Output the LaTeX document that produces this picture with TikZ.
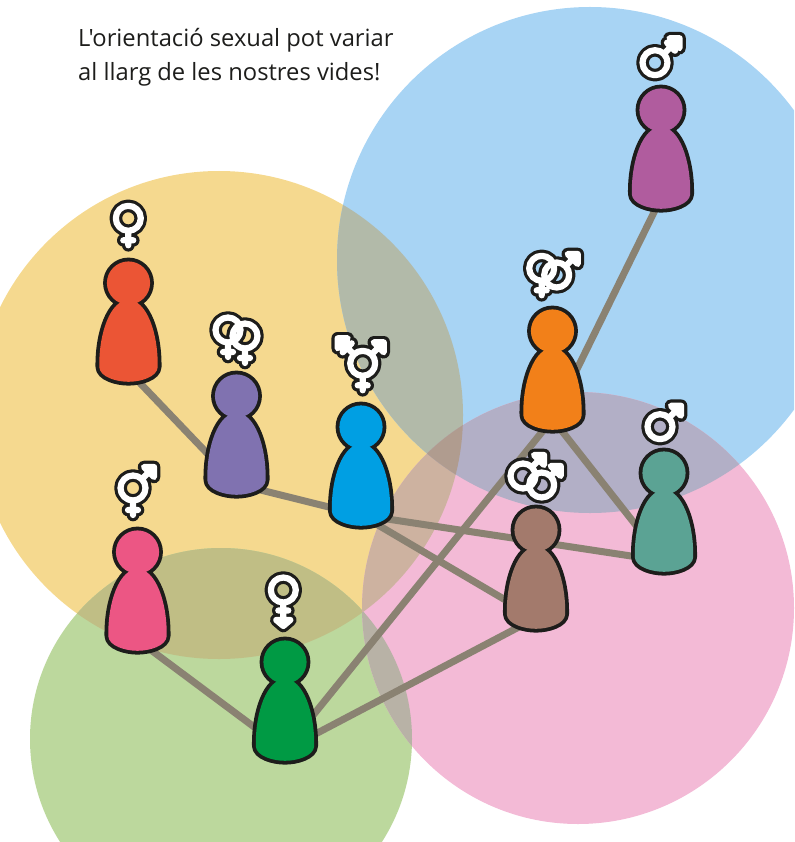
\documentclass[tikz,border=0pt]{standalone}
\usepackage{fontspec}
\newfontfamily\titlefont{Open Sans}
\definecolor{yellowbg}{HTML}{F5D98F}
\definecolor{bluebg}{HTML}{A8D4F4}
\definecolor{pinkbg}{HTML}{F3BAD6}
\definecolor{greenbg}{HTML}{BCD89D}
\definecolor{yellowblue}{HTML}{B2BAA9}
\definecolor{yellowgreen}{HTML}{C0BE85}
\definecolor{yellowpink}{HTML}{CDB2A0}
\definecolor{bluepink}{HTML}{B2AFC6}
\definecolor{greenpink}{HTML}{B8B2A6}
\definecolor{yellowbluepink}{HTML}{B09C8F}
\definecolor{linkcol}{HTML}{8A8272}
\definecolor{outline}{HTML}{1D1D1B}
\definecolor{pawnred}{HTML}{EB5535}
\definecolor{pawnpurple}{HTML}{8072B0}
\definecolor{pawnblue}{HTML}{009FE3}
\definecolor{pawnmagenta}{HTML}{B05C9E}
\definecolor{pawnorange}{HTML}{F28019}
\definecolor{pawnteal}{HTML}{5BA394}
\definecolor{pawnbrown}{HTML}{A37A6C}
\definecolor{pawnrose}{HTML}{EC5684}
\definecolor{pawngreen}{HTML}{009A44}
\newcommand{\yellowc}{(219,415) circle[radius=244]}
\newcommand{\bluec}{(590,260) circle[radius=253]}
\newcommand{\pinkc}{(578,608) circle[radius=216]}
\newcommand{\greenc}{(221,739) circle[radius=191]}
\newcommand{\headp}{(0,-88) circle[radius=21.6]}
\newcommand{\bodyp}{(0,-71) .. controls (-18,-71) and (-29.8,-38) .. (-29.2,-4) .. controls (-28.8,6) and (-12,10.8) .. (0,10.8)
  .. controls (12,10.8) and (28.8,6) .. (29.2,-4) .. controls (29.8,-38) and (18,-71) .. (0,-71) -- cycle}
% sign parts, each one is a piece of path
\newcommand{\ringp}[2]{(#1,#2) circle[radius=12.5]}
\newcommand{\venusp}[2]{\ringp{#1}{#2} (#1,#2+12.5) -- (#1,#2+27) (#1-5,#2+22) -- (#1+5,#2+22)}
\newcommand{\marsp}[3]{\ringp{#1}{#2} (#1+8.8,#2-8.8) -- (#1+#3,#2-#3) -- (#1+#3-10,#2-#3) -- (#1+#3,#2-#3+10) -- (#1+#3,#2-#3)}
\newcommand{\signpic}[1]{\draw[signout] #1; \draw[signin] #1;}
\tikzset{
  signout/.style={outline,line width=12.6pt,line cap=round,line join=round},
  signin/.style={white,line width=6.2pt,line cap=round,line join=round},
  link/.style={linkcol,line width=7pt},
  pics/pawn/.style={code={
    \draw[outline,line width=7.6pt,line join=round] \headp \bodyp;
    \fill[#1] \headp;
    \fill[#1] \bodyp;
  }}
}
\begin{document}
\begin{tikzpicture}[x=1pt,y=-1pt]
  \path[use as bounding box,clip] (0,0) rectangle (794,842);
  % circles and their overlaps
  \fill[yellowbg] \yellowc;
  \fill[bluebg] \bluec;
  \fill[greenbg] \greenc;
  \fill[pinkbg] \pinkc;
  \begin{scope}
    \clip \yellowc;
    \fill[yellowblue] \bluec;
    \fill[yellowgreen] \greenc;
    \fill[yellowpink] \pinkc;
    \clip \bluec;
    \fill[yellowbluepink] \pinkc;
  \end{scope}
  \begin{scope}
    \clip \pinkc;
    \begin{scope}
      \clip \bluec;
      \fill[bluepink] (350,350) rectangle (794,560);
      \clip \yellowc;
      \fill[yellowbluepink] (350,350) rectangle (794,560);
    \end{scope}
    \begin{scope}
      \clip (350,612) rectangle (420,842);
      \fill[greenpink] \greenc;
    \end{scope}
  \end{scope}
  \node[anchor=north west,inner sep=0pt,align=left,font=\titlefont\fontsize{23.75}{34}\selectfont,text=outline] (title) at (78,28)
    {L'orientació sexual pot variar\\al llarg de les nostres vides!};
  \coordinate (red) at (128.5,371);
  \coordinate (purple) at (236.5,484);
  \coordinate (blue) at (361,515);
  \coordinate (magenta) at (661,198);
  \coordinate (orange) at (552.5,419);
  \coordinate (teal) at (664,561);
  \coordinate (brown) at (536,618);
  \coordinate (rose) at (137.5,640);
  \coordinate (green) at (285,750);
  \draw[link] (red) -- (purple);
  \draw[link] (purple) -- (blue);
  \draw[link] (blue) -- (teal);
  \draw[link] (blue) -- (brown);
  \draw[link] (magenta) -- (orange);
  \draw[link] (orange) -- (teal);
  \draw[link] (orange) -- (green);
  \draw[link] (green) -- (brown);
  \draw[link] (rose) -- (green);
  \pic at (red) {pawn=pawnred};
  \pic at (purple) {pawn=pawnpurple};
  \pic at (blue) {pawn=pawnblue};
  \pic at (magenta) {pawn=pawnmagenta};
  \pic at (orange) {pawn=pawnorange};
  \pic at (teal) {pawn=pawnteal};
  \pic at (brown) {pawn=pawnbrown};
  \pic at (rose) {pawn=pawnrose};
  \pic at (green) {pawn=pawngreen};
  % signs over the heads
  \signpic{\venusp{128.3}{218.3}}
  \signpic{\venusp{228}{330} \venusp{245}{336}}
  \signpic{\venusp{362.7}{363.3} \marsp{362.7}{363.3}{21}
    (362.7-8.8,363.3-8.8) -- (362.7-25,363.3-25) -- (362.7-15,363.3-25) -- (362.7-25,363.3-15) -- (362.7-25,363.3-25)
    (362.7-20,363.3-11) -- (362.7-11,363.3-20)}
  \signpic{\marsp{655}{62.7}{24.5} (655+12,62.7-20) -- (655+20,62.7-12)}
  \signpic{\venusp{541.7}{268.3} \marsp{556.7}{275}{21}}
  \signpic{\marsp{660}{426.7}{21}}
  \signpic{\marsp{523}{476}{21} \marsp{541.7}{485}{19}}
  \signpic{\venusp{133}{488} \marsp{133}{488}{21}}
  \signpic{\ringp{283.3}{590} (283.3,602.5) -- (283.3,626) -- (283.3-7,620) -- (283.3+7,620) -- (283.3,626)
    (283.3-5,610.5) -- (283.3+5,610.5)}
\end{tikzpicture}
\end{document}
